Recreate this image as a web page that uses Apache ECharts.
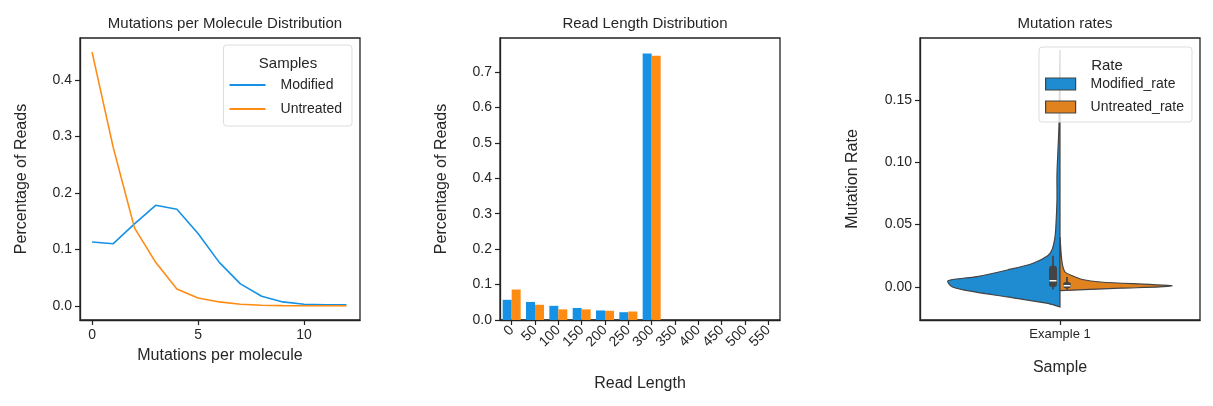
<!DOCTYPE html>
<html><head><meta charset="utf-8">
<script src="https://cdn.jsdelivr.net/npm/echarts@6/dist/echarts.min.js"></script>
<style>html,body{margin:0;background:#fff}#c{width:1213px;height:406px}</style>
</head><body><div id="c"></div>
<script>
// Panel 1
const mutCounts = [0,1,2,3,4,5,6,7,8,9,10,11,12];
const mutModified = [0.113,0.110,0.145,0.178,0.171,0.128,0.077,0.039,0.017,0.007,0.003,0.002,0.002];
const mutUntreated = [0.449,0.280,0.138,0.077,0.030,0.014,0.007,0.003,0.001,0.0005,0.0003,0.0002,0.0001];
// Panel 2
const lenCategories = ['0','50','100','150','200','250','300','350','400','450','500','550'];
const lenModified = [0.057,0.051,0.040,0.034,0.027,0.022,0.752,0,0,0,0,0];
const lenUntreated = [0.086,0.043,0.030,0.030,0.026,0.024,0.746,0,0,0,0,0];
// Panel 3 violin (y value, relative half-width)
const modY = [-0.016,-0.013,-0.008,-0.004,0,0.005,0.0083,0.0136,0.019,0.025,0.030,0.04,0.05,0.07,0.09,0.11,0.13,0.16,0.19];
const modW = [0,0.12,0.47,0.76,0.96,1,0.74,0.47,0.24,0.11,0.07,0.045,0.036,0.027,0.027,0.018,0.009,0.005,0];
const untY = [-0.003,-0.001,0,0.001,0.002,0.004,0.006,0.009,0.012,0.02,0.04];
const untW = [0,0.54,0.89,1,0.8,0.36,0.2,0.11,0.045,0.018,0];
// box stats: [whiskerLow, q1, median, q3, whiskerHigh]
const modBox = [-0.002,0.0,0.005,0.017,0.025];
const untBox = [-0.002,-0.001,0.001,0.004,0.008];

const F = 'Liberation Sans, Arial, sans-serif';
const TXT = '#262626';
const BLUE = '#1592e6', ORANGE = '#ff8c12';
const VB = '#1f8bd0', VO = '#e0821e';
const grids = [
  {left:80, top:38, width:280, height:282},
  {left:500, top:38, width:280, height:282},
  {left:920, top:38, width:280, height:282}
].map(g=>Object.assign(g,{show:true,borderColor:'#222',borderWidth:1.3,backgroundColor:'transparent'}));

function axisBase(extra){
  return Object.assign({
    axisLine:{show:true,onZero:false,lineStyle:{color:'#222',width:1.3}},
    axisTick:{show:true,inside:false,length:5,lineStyle:{color:'#222',width:1.2}},
    axisLabel:{color:TXT,fontFamily:F,fontSize:14},
    splitLine:{show:false},
    nameTextStyle:{color:TXT,fontFamily:F,fontSize:16},
    nameLocation:'middle'
  },extra);
}
const WSCALE = 0.8;
function violinItem(params, api){
  const side = params.dataIndex;
  const ys = side===0?modY:untY, ws = side===0?modW:untW;
  const sgn = side===0?-1:1;
  const pts = [];
  for(let i=0;i<ys.length;i++) pts.push(api.coord([sgn*ws[i]*WSCALE, ys[i]]));
  pts.push(api.coord([0, ys[ys.length-1]])); pts.push(api.coord([0, ys[0]]));
  const box = side===0?modBox:untBox;
  const bx = side===0?-0.05:0.05;
  const w0 = api.coord([bx, box[0]]), w4 = api.coord([bx, box[4]]);
  const q1 = api.coord([bx, box[1]]), q3 = api.coord([bx, box[3]]);
  const md = api.coord([bx, box[2]]);
  return {type:'group',children:[
    {type:'polygon',shape:{points:pts,smooth:0.3},style:{fill:side===0?VB:VO,stroke:'#444',lineWidth:1.2}},
    {type:'line',shape:{x1:w0[0],y1:w0[1],x2:w4[0],y2:w4[1]},style:{stroke:'#444',lineWidth:1.8}},
    {type:'rect',shape:{x:q1[0]-4,y:q3[1],width:8,height:q1[1]-q3[1],r:3},style:{fill:'#444'}},
    {type:'line',shape:{x1:md[0]-3.5,y1:md[1],x2:md[0]+3.5,y2:md[1]},style:{stroke:'#fff',lineWidth:1.5}}
  ]};
}
const tstyle = {fontFamily:F,fontSize:15,fontWeight:'normal',color:TXT};
const option = {
  animation:false,
  backgroundColor:'#fff',
  title:[
    {text:'Mutations per Molecule Distribution',left:220,top:11,textAlign:'center',textStyle:tstyle},
    {text:'Read Length Distribution',left:640,top:11,textAlign:'center',textStyle:tstyle},
    {text:'Mutation rates',left:1060,top:11,textAlign:'center',textStyle:tstyle},
    {text:'Samples',left:283,top:51,textAlign:'center',textStyle:tstyle},
    {text:'Rate',left:1102,top:53,textAlign:'center',textStyle:tstyle}
  ],
  grid:grids,
  legend:[
    {data:['Modified','Untreated'],orient:'vertical',right:1213-352,top:45,padding:[33,10,10,6],itemGap:10,itemWidth:36,itemHeight:2,
     backgroundColor:'rgba(255,255,255,0.8)',borderColor:'#ddd',borderWidth:1,borderRadius:3,
     textStyle:{fontFamily:F,fontSize:14,color:TXT,padding:[0,0,0,10]},icon:'rect'},
    {data:[{name:'Modified_rate',itemStyle:{color:VB,borderColor:'#444',borderWidth:1.2}},{name:'Untreated_rate',itemStyle:{color:VO,borderColor:'#444',borderWidth:1.2}}],
     orient:'vertical',right:1213-1192,top:47,padding:[30,8,8,6],itemGap:9,itemWidth:30,itemHeight:12,
     backgroundColor:'rgba(255,255,255,0.8)',borderColor:'#ddd',borderWidth:1,borderRadius:3,
     textStyle:{fontFamily:F,fontSize:14,color:TXT,padding:[0,0,0,10]},icon:'rect'}
  ],
  xAxis:[
    axisBase({gridIndex:0,type:'value',min:-0.57,max:12.64,interval:5,name:'Mutations per molecule',nameGap:28,
      axisLabel:{color:TXT,fontFamily:F,fontSize:14,customValues:[0,5,10]},axisTick:{show:true,length:5,lineStyle:{color:'#222',width:1.2},customValues:[0,5,10]}}),
    axisBase({gridIndex:1,type:'category',data:lenCategories,name:'Read Length',nameGap:56,
      axisTick:{show:true,alignWithLabel:true,length:5,lineStyle:{color:'#222',width:1.2}},
      axisLabel:{color:TXT,fontFamily:F,fontSize:14,rotate:45,interval:0,margin:8}}),
    axisBase({gridIndex:2,type:'value',min:-1,max:1,name:'Sample',nameGap:40,
      axisLabel:{color:TXT,fontFamily:F,fontSize:13,customValues:[0],formatter:v=>v===0?'Example 1':''},
      axisTick:{show:true,length:5,lineStyle:{color:'#222',width:1.2},customValues:[0]}})
  ],
  yAxis:[
    axisBase({gridIndex:0,type:'value',min:-0.025,max:0.474,interval:0.1,name:'Percentage of Reads',nameGap:50,
      axisLabel:{color:TXT,fontFamily:F,fontSize:14,customValues:[0,0.1,0.2,0.3,0.4],formatter:v=>v.toFixed(1)},
      axisTick:{show:true,length:5,lineStyle:{color:'#222',width:1.2},customValues:[0,0.1,0.2,0.3,0.4]}}),
    axisBase({gridIndex:1,type:'value',min:0,max:0.796,name:'Percentage of Reads',nameGap:50,
      axisLabel:{color:TXT,fontFamily:F,fontSize:14,customValues:[0,0.1,0.2,0.3,0.4,0.5,0.6,0.7],formatter:v=>v.toFixed(1)},
      axisTick:{show:true,length:5,lineStyle:{color:'#222',width:1.2},customValues:[0,0.1,0.2,0.3,0.4,0.5,0.6,0.7]}}),
    axisBase({gridIndex:2,type:'value',min:-0.0265,max:0.1997,name:'Mutation Rate',nameGap:59,
      axisLabel:{color:TXT,fontFamily:F,fontSize:14,customValues:[0,0.05,0.1,0.15],formatter:v=>v.toFixed(2)},
      axisTick:{show:true,length:5,lineStyle:{color:'#222',width:1.2},customValues:[0,0.05,0.1,0.15]}})
  ],
  series:[
    {name:'Modified',type:'line',xAxisIndex:0,yAxisIndex:0,data:mutCounts.map((x,i)=>[x,mutModified[i]]),showSymbol:false,color:BLUE,lineStyle:{width:1.6}},
    {name:'Untreated',type:'line',xAxisIndex:0,yAxisIndex:0,data:mutCounts.map((x,i)=>[x,mutUntreated[i]]),showSymbol:false,color:ORANGE,lineStyle:{width:1.6}},
    {name:'ModBar',type:'bar',xAxisIndex:1,yAxisIndex:1,data:lenModified,color:BLUE,barWidth:9,barGap:'0%'},
    {name:'UntBar',type:'bar',xAxisIndex:1,yAxisIndex:1,data:lenUntreated,color:ORANGE,barWidth:9,barGap:'0%'},
    {name:'Modified_rate',type:'custom',xAxisIndex:2,yAxisIndex:2,color:VB,renderItem:violinItem,data:[[0,0],[0,0]],clip:true},
    {name:'Untreated_rate',type:'custom',xAxisIndex:2,yAxisIndex:2,color:VO,renderItem:()=>({type:'group',children:[]}),data:[[0,0]]}
  ]
};
echarts.init(document.getElementById('c')).setOption(option);
</script></body></html>
